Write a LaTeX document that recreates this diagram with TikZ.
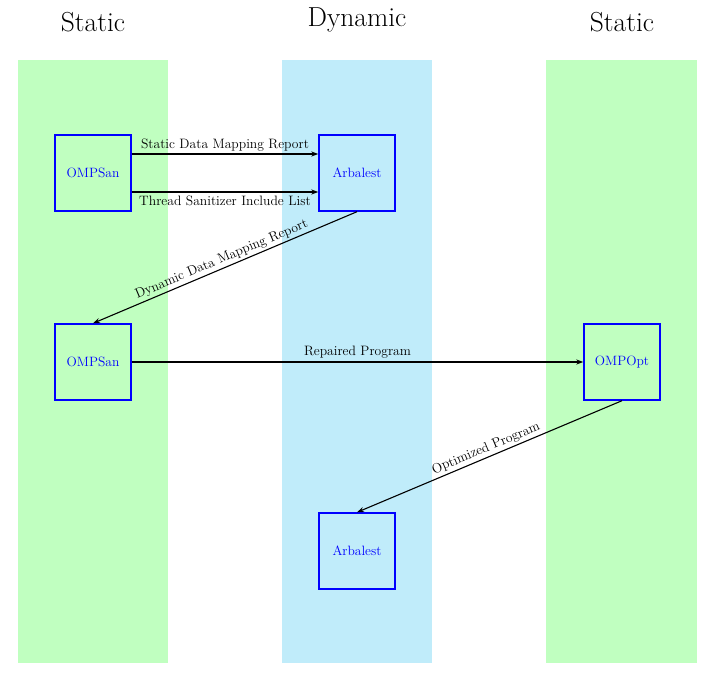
\documentclass[tikz,border=0pt]{standalone}
\usetikzlibrary{arrows.meta}
\definecolor{lanegreen}{RGB}{192,255,192}
\definecolor{lanecyan}{RGB}{192,236,250}
\tikzset{
  tool/.style={draw=blue, line width=1.4pt, minimum width=76pt, minimum height=76pt, inner sep=0pt, text=blue, font=\fontsize{13.5}{16}\selectfont},
  title/.style={font=\fontsize{27.5}{32}\selectfont},
  flow/.style={line width=1.1pt, -{Stealth[length=7pt,width=5pt]}},
  lbl/.style={font=\fontsize{13.6}{16}\selectfont, text=black}
}
\begin{document}
\begin{tikzpicture}[x=1pt,y=-1pt]
\useasboundingbox (0,0) rectangle (715,684);
\fill[lanegreen] (18,60) rectangle (168,663);
\fill[lanecyan] (282,60) rectangle (432,663);
\fill[lanegreen] (546,60) rectangle (697,663);
\node[title] (t1) at (93,22) {Static};
\node[title] (t2) at (357,20) {Dynamic};
\node[title] (t3) at (622,22) {Static};
\node[tool] (s1) at (93,173) {OMPSan};
\node[tool] (a1) at (357,173) {Arbalest};
\node[tool] (s2) at (93,362) {OMPSan};
\node[tool] (o1) at (622,362) {OMPOpt};
\node[tool] (a2) at (357,551) {Arbalest};
\draw[flow] ([yshift=19pt]s1.east) -- node[lbl, above, inner sep=2pt] {Static Data Mapping Report} ([yshift=19pt]a1.west);
\draw[flow] ([yshift=-19pt]s1.east) -- node[lbl, below, inner sep=3pt] {Thread Sanitizer Include List} ([yshift=-19pt]a1.west);
\draw[flow] (a1.south) -- node[lbl, above, sloped, inner sep=2pt] {Dynamic Data Mapping Report} (s2.north);
\draw[flow] (s2.east) -- node[lbl, above, inner sep=3pt] {Repaired Program} (o1.west);
\draw[flow] (o1.south) -- node[lbl, above, sloped, inner sep=2pt] {Optimized Program} (a2.north);
\end{tikzpicture}
\end{document}
